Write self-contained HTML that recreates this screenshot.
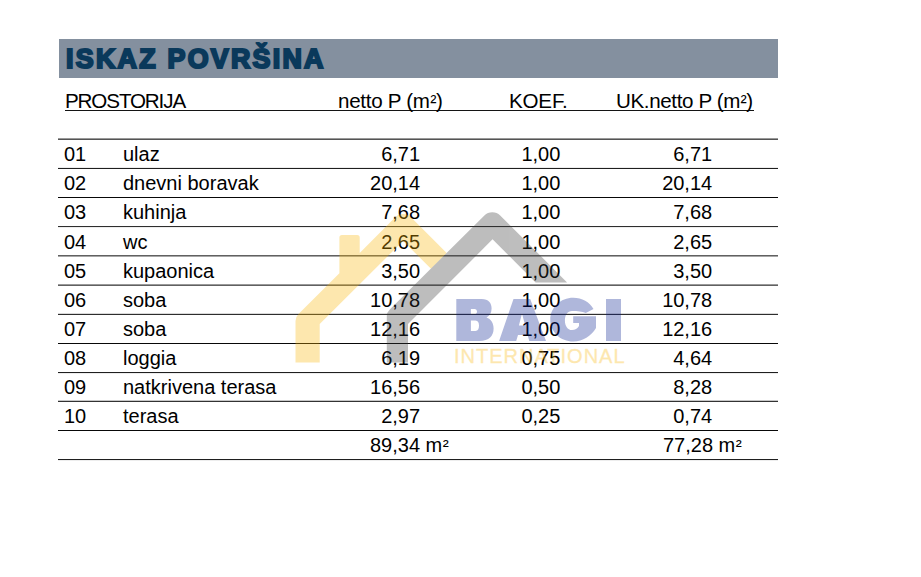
<!DOCTYPE html>
<html><head><meta charset="utf-8"><style>
html,body{margin:0;padding:0;background:#fff;}
body{width:921px;height:577px;position:relative;overflow:hidden;font-family:"Liberation Sans",sans-serif;color:#000;}
.t{position:absolute;font-size:20px;line-height:29px;height:29px;white-space:nowrap;}
.r{width:200px;text-align:right;}
.ln{position:absolute;left:58px;width:720px;height:1px;background:#1e1e1e;}
#band{position:absolute;left:59px;top:39px;width:719px;height:39px;background:#84909f;}
#title{position:absolute;left:66px;top:40px;height:39px;line-height:39px;font-size:26.8px;font-weight:bold;color:#0a395b;white-space:nowrap;letter-spacing:2.28px;-webkit-text-stroke:2.1px #0a395b;}
#ul{position:absolute;left:65px;top:110px;width:689px;height:1px;background:rgba(0,0,0,0.92);}
svg{position:absolute;left:0;top:0;}
.sq{font-size:0.9em;margin-left:0.03em;}
</style></head><body>

<div id="band"></div>
<div id="title">ISKAZ POVRŠINA</div>
<div class="t" style="left:65px;top:85.5px;letter-spacing:-1.12px;font-size:20.6px;">PROSTORIJA</div>
<div class="t" style="left:338px;top:85.5px;font-size:20.6px;letter-spacing:-0.3px;">netto P (m<span class="sq">²</span>)</div>
<div class="t" style="left:509px;top:85.5px;font-size:20.6px;letter-spacing:-0.2px;">KOEF.</div>
<div class="t" style="left:616px;top:85.5px;letter-spacing:-0.38px;font-size:20.6px;">UK.netto P (m<span class="sq">²</span>)</div>
<div id="ul"></div>
<div class="ln" style="top:138px;background:rgba(0,0,0,0.4)"></div>
<div class="ln" style="top:139px;background:rgba(0,0,0,0.67)"></div>
<div class="ln" style="top:167px;background:rgba(0,0,0,0.07)"></div>
<div class="ln" style="top:168px;background:rgba(0,0,0,0.88)"></div>
<div class="ln" style="top:197px;background:rgba(0,0,0,0.97)"></div>
<div class="ln" style="top:226px;background:rgba(0,0,0,0.82)"></div>
<div class="ln" style="top:227px;background:rgba(0,0,0,0.07)"></div>
<div class="ln" style="top:255px;background:rgba(0,0,0,0.62)"></div>
<div class="ln" style="top:256px;background:rgba(0,0,0,0.35)"></div>
<div class="ln" style="top:284px;background:rgba(0,0,0,0.4)"></div>
<div class="ln" style="top:285px;background:rgba(0,0,0,0.62)"></div>
<div class="ln" style="top:313px;background:rgba(0,0,0,0.15)"></div>
<div class="ln" style="top:314px;background:rgba(0,0,0,0.82)"></div>
<div class="ln" style="top:343px;background:rgba(0,0,0,0.97)"></div>
<div class="ln" style="top:372px;background:rgba(0,0,0,0.88)"></div>
<div class="ln" style="top:373px;background:rgba(0,0,0,0.07)"></div>
<div class="ln" style="top:400px;background:rgba(0,0,0,0.22)"></div>
<div class="ln" style="top:401px;background:rgba(0,0,0,0.8)"></div>
<div class="ln" style="top:430px;background:rgba(0,0,0,0.97)"></div>
<div class="ln" style="top:459px;background:rgba(0,0,0,0.88)"></div>
<div class="ln" style="top:460px;background:rgba(0,0,0,0.07)"></div>
<div class="t" style="left:64px;top:140px;">01</div>
<div class="t" style="left:123px;top:140px;">ulaz</div>
<div class="t r" style="left:220.1px;top:140px;">6,71</div>
<div class="t" style="left:521.4px;top:140px;">1,00</div>
<div class="t r" style="left:512.2px;top:140px;">6,71</div>
<div class="t" style="left:64px;top:169px;">02</div>
<div class="t" style="left:123px;top:169px;">dnevni boravak</div>
<div class="t r" style="left:220.1px;top:169px;">20,14</div>
<div class="t" style="left:521.4px;top:169px;">1,00</div>
<div class="t r" style="left:512.2px;top:169px;">20,14</div>
<div class="t" style="left:64px;top:198px;">03</div>
<div class="t" style="left:123px;top:198px;">kuhinja</div>
<div class="t r" style="left:220.1px;top:198px;">7,68</div>
<div class="t" style="left:521.4px;top:198px;">1,00</div>
<div class="t r" style="left:512.2px;top:198px;">7,68</div>
<div class="t" style="left:64px;top:228px;">04</div>
<div class="t" style="left:123px;top:228px;">wc</div>
<div class="t r" style="left:220.1px;top:228px;">2,65</div>
<div class="t" style="left:521.4px;top:228px;">1,00</div>
<div class="t r" style="left:512.2px;top:228px;">2,65</div>
<div class="t" style="left:64px;top:257px;">05</div>
<div class="t" style="left:123px;top:257px;">kupaonica</div>
<div class="t r" style="left:220.1px;top:257px;">3,50</div>
<div class="t" style="left:521.4px;top:257px;">1,00</div>
<div class="t r" style="left:512.2px;top:257px;">3,50</div>
<div class="t" style="left:64px;top:286px;">06</div>
<div class="t" style="left:123px;top:286px;">soba</div>
<div class="t r" style="left:220.1px;top:286px;">10,78</div>
<div class="t" style="left:521.4px;top:286px;">1,00</div>
<div class="t r" style="left:512.2px;top:286px;">10,78</div>
<div class="t" style="left:64px;top:315px;">07</div>
<div class="t" style="left:123px;top:315px;">soba</div>
<div class="t r" style="left:220.1px;top:315px;">12,16</div>
<div class="t" style="left:521.4px;top:315px;">1,00</div>
<div class="t r" style="left:512.2px;top:315px;">12,16</div>
<div class="t" style="left:64px;top:344px;">08</div>
<div class="t" style="left:123px;top:344px;">loggia</div>
<div class="t r" style="left:220.1px;top:344px;">6,19</div>
<div class="t" style="left:521.4px;top:344px;">0,75</div>
<div class="t r" style="left:512.2px;top:344px;">4,64</div>
<div class="t" style="left:64px;top:373px;">09</div>
<div class="t" style="left:123px;top:373px;">natkrivena terasa</div>
<div class="t r" style="left:220.1px;top:373px;">16,56</div>
<div class="t" style="left:521.4px;top:373px;">0,50</div>
<div class="t r" style="left:512.2px;top:373px;">8,28</div>
<div class="t" style="left:64px;top:402px;">10</div>
<div class="t" style="left:123px;top:402px;">terasa</div>
<div class="t r" style="left:220.1px;top:402px;">2,97</div>
<div class="t" style="left:521.4px;top:402px;">0,25</div>
<div class="t r" style="left:512.2px;top:402px;">0,74</div>
<div class="t" style="left:370px;top:431px;">89,34 m<span class="sq">²</span></div>
<div class="t" style="left:663px;top:431px;">77,28 m<span class="sq">²</span></div>
<svg width="921" height="577" viewBox="0 0 921 577">
<defs>
<clipPath id="cy"><polygon points="200,150 550,150 200,500"/></clipPath>
</defs>
<g opacity="0.32">
<g clip-path="url(#cy)" fill="#f9b708">
<path d="M295.5,362.6 L295.5,321 Q295.5,317.1 298.5,314.1 L339.4,273.2 L339.4,237.5 Q339.4,235 341.9,235 L357.2,235 Q359.7,235 359.7,237.5 L359.7,252.9 L395.25,217.35 A11.1,11.1 0 0 1 410.95,217.35 L490,296.2 L490,327.8 L403.1,240.9 L319.7,324.1 L319.7,362.6 Z"/>
</g>
<path fill="#353535" d="M386.8,362.5 L386.8,316 Q386.8,312.5 390,309.3 L484.4,215.4 A11.2,11.2 0 0 1 500.2,215.4 L567.1,282.4 L535.6,282.4 L492.55,239.35 L408,323.9 L408,362.5 Z"/>
<g fill="#0b2192" fill-rule="evenodd">
<path d="M456.3,299 H481.7 C488.5,299 491.6,303 491.6,308.5 C491.6,313 489.5,316 486.5,317.5 C491,319 493.6,323 493.6,328.5 C493.6,336 489,341 479.5,341 H456.3 Z M470.9,308.9 H474.5 C476.2,308.9 477,310.1 477,311.6 C477,313.1 476.2,314.3 474.5,314.3 H470.9 Z M470.9,320.6 H475.5 C478,320.6 479,322.7 479,325.8 C479,328.9 478,331 475.5,331 H470.9 Z"/>
<path d="M499.1,341.1 L513.5,299 L530.2,299 L546,341.1 L529.3,341.1 L527.6,335 L518,335 L516.2,341.1 Z M522,313.4 L525.2,325.6 L518.9,325.6 Z"/>
<path d="M593.5,309 C589.5,302 582,297.8 573.3,297.8 C560.5,297.8 550.3,307.5 550.3,319.7 C550.3,332 560.5,341.5 573.3,341.5 C583,341.5 591,336 596,328 L596,316.3 L573.2,316.3 L573.2,323.1 L579,323.1 L579,326 C577.5,328.5 575,330 572,330 C567.5,330 564.9,325.5 564.9,320.4 C564.9,315 567.5,310.9 572,310.9 C578,310.9 582,311.5 585.8,312.9 Z"/>
<rect x="606" y="299" width="15" height="42"/>
</g>
<text x="454.0" y="363" font-family="Liberation Sans" font-size="20" letter-spacing="1.0" fill="#f9b708" stroke="#f9b708" stroke-width="0.35">INTERNATIONAL</text>
</g>
</svg>

</body></html>
